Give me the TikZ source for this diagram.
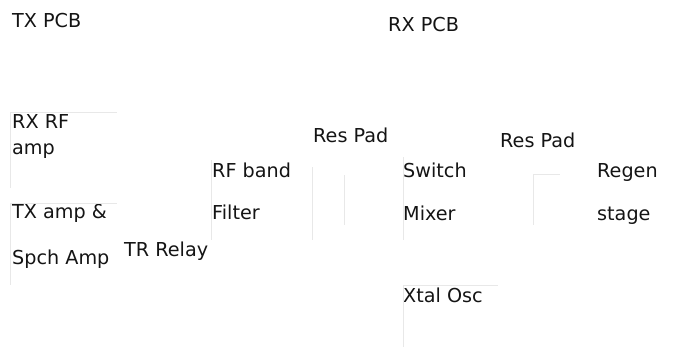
\documentclass[tikz,border=0pt]{standalone}
\usepackage{fontspec}
\setmainfont{DejaVu Sans}

\begin{document}
\begin{tikzpicture}[
  x=1pt, y=-1pt,
  lbl/.style    = {anchor=base west, inner sep=0pt, font=\fontsize{19.2}{22}\selectfont,
                   text=black!92},
  ghost/.style  = {draw=black!9, line width=0.8pt},   % the faint box edges behind the texts
]
  \useasboundingbox (0,0) rectangle (678,347);

  % board titles
  \node[lbl] (txpcb) at (12,28) {TX PCB};
  \node[lbl] (rxpcb) at (388,32) {RX PCB};

  % TX board blocks
  \node[lbl] (rxrf)  at (12,129) {RX RF};
  \node[lbl] (rxrfb) at (12,155) {amp};
  \node[lbl] (txamp)  at (12,219) {TX amp \&};
  \node[lbl] (txampb) at (12,265) {Spch Amp};
  \node[lbl] (relay) at (124,257) {TR Relay};
  \node[lbl] (filt)  at (212,178) {RF band};
  \node[lbl] (filtb) at (212,220) {Filter};
  \node[lbl] (padl)  at (313,143) {Res Pad};

  % RX board blocks
  \node[lbl] (mix)   at (403,178) {Switch};
  \node[lbl] (mixb)  at (403,221) {Mixer};
  \node[lbl] (padr)  at (500,148) {Res Pad};
  \node[lbl] (regen)  at (597,178) {Regen};
  \node[lbl] (regenb) at (597,221) {stage};
  \node[lbl] (xtal)  at (403,303) {Xtal Osc};

  % faint edges
  \draw[ghost] (117,112) -- (10,112) -- (10,188);
  \draw[ghost] (117,203) -- (10,203) -- (10,285);
  \draw[ghost] (211,160) -- (211,240);
  \draw[ghost] (312,167) -- (312,240);
  \draw[ghost] (344,175) -- (344,225);
  \draw[ghost] (403,157) -- (403,240);
  \draw[ghost] (560,174) -- (533,174) -- (533,225);
  \draw[ghost] (498,285) -- (403,285) -- (403,347);
\end{tikzpicture}
\end{document}
